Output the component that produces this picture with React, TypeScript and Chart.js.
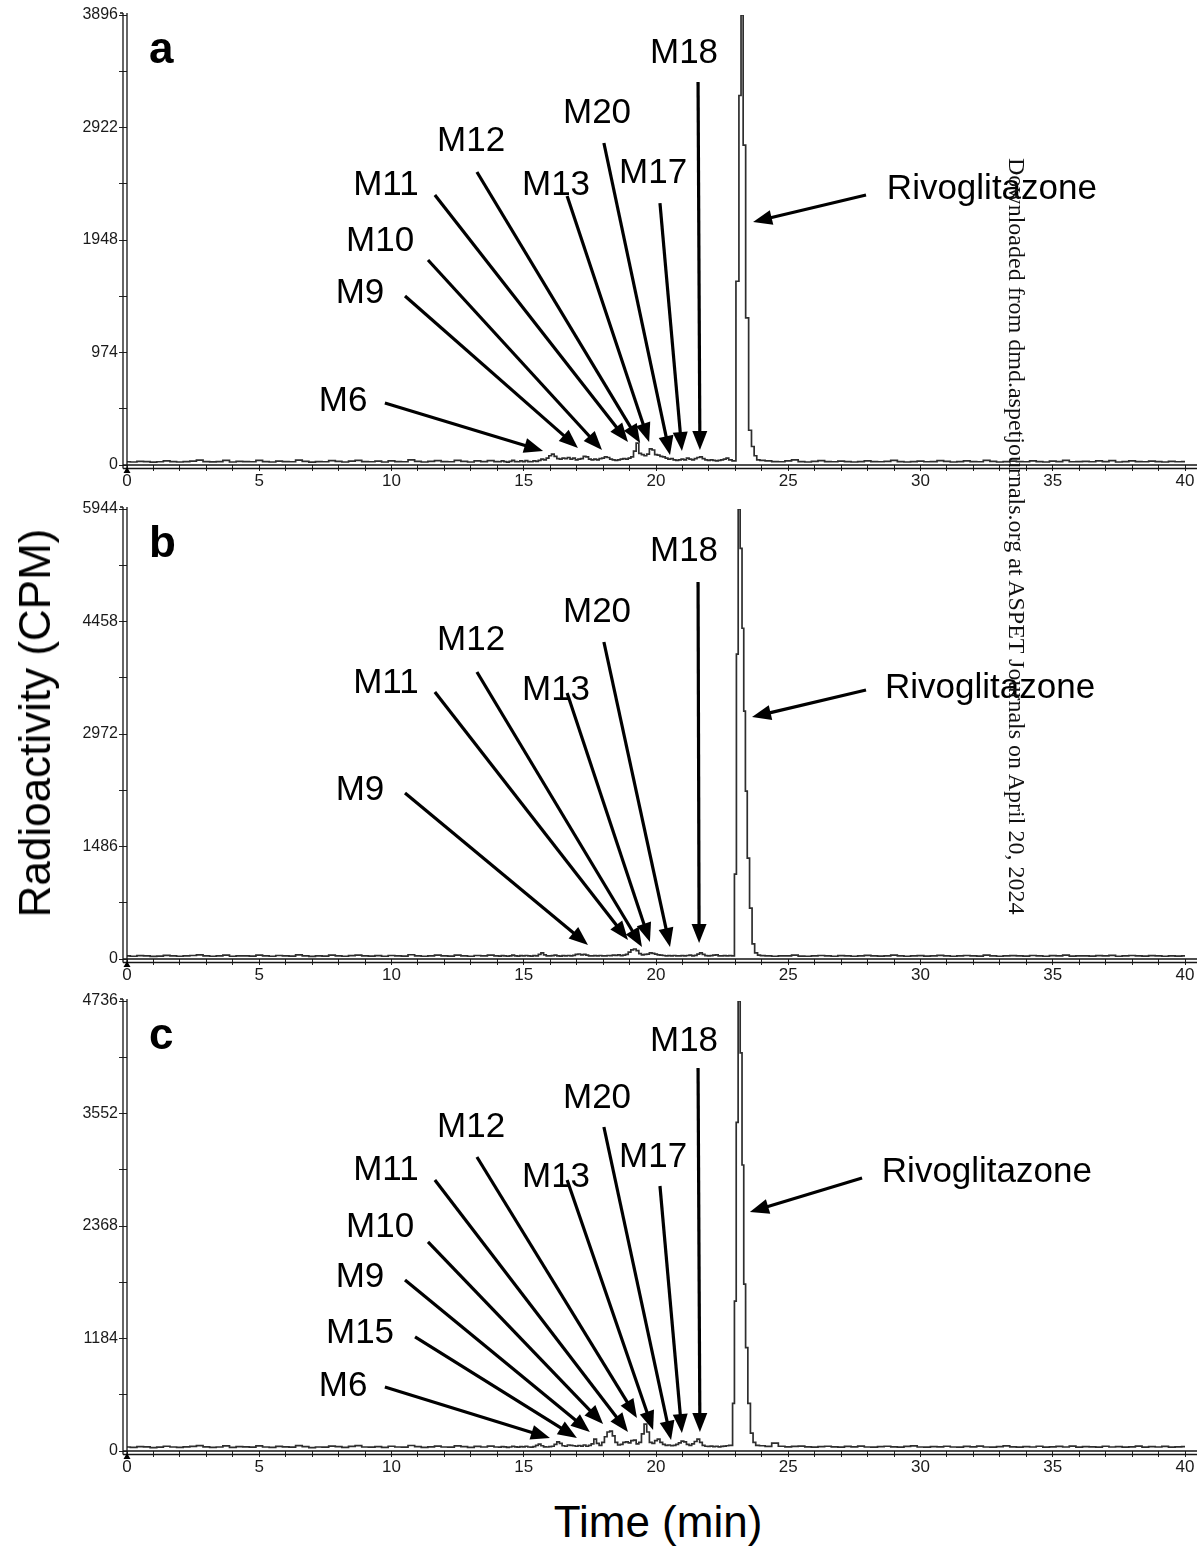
import React, { useEffect, useRef } from "react";
import { Chart, registerables } from "chart.js";

Chart.register(...registerables);

// Sampling grid of the chromatogram segments (minutes)
const LOW_START = 0;
const LOW_STEP = 0.25;
const MID_START = 14;
const MID_STEP = 0.1;
const HIGH_START = 24;
const HIGH_STEP = 0.25;

const X_MIN = 0;
const X_MAX = 40;

// ---------- Panel a ----------
const yMaxA = 3896;
const lowA = [
  28, 26, 32, 30, 25, 28, 36, 30, 26, 30,
  34, 42, 30, 27, 30, 40, 26, 32, 30, 28,
  40, 30, 26, 34, 30, 28, 42, 32, 25, 30,
  28, 38, 32, 26, 34, 40, 30, 28, 33, 26,
  36, 30, 28, 44, 32, 26, 32, 38, 30, 28,
  40, 32, 26, 35, 30, 38,
];
const midA = [
  30, 28, 35, 30, 25, 32, 40, 30, 28, 35,
  30, 38, 30, 28, 35, 32, 40, 50, 45, 60,
  80, 95, 75, 55, 50, 60, 55, 65, 50, 60,
  45, 50, 55, 75, 70, 50, 45, 50, 45, 55,
  60, 70, 65, 50, 45, 40, 45, 50, 55, 50,
  60, 70, 120, 190, 100, 90, 80, 95, 140, 130,
  90, 85, 75, 70, 60, 50, 55, 45, 40, 45,
  50, 45, 60, 50, 45, 55, 65, 70, 55, 45,
  40, 45, 40, 35, 40, 45, 50, 60, 45,
];
const peakTimesA = [22.95, 23.095, 23.175, 23.255, 23.335, 23.445, 23.56, 23.66, 23.76, 23.86];
const peakA = [35, 1591, 3199, 3896, 2769, 1273, 301, 160, 80, 45];
const highA = [
  40, 35, 30, 28, 35, 45, 30, 26, 32, 38,
  30, 28, 34, 30, 26, 30, 36, 30, 28, 32,
  40, 30, 26, 30, 34, 28, 30, 38, 32, 26,
  30, 36, 30, 28, 40, 32, 26, 30, 34, 30,
  28, 36, 30, 26, 34, 30, 40, 28, 30, 32,
  28, 35, 30, 38, 26, 30, 36, 30, 28, 34,
  30, 26, 32, 28, 30,
];
// [label, text t, text cpm, tail t, tail cpm, tip t, tip cpm]
const annotA: [string, number, number, number, number, number, number][] = [
  ["M6", 8.17, 554, 9.75, 537, 15.73, 121],
  ["M9", 8.81, 1489, 10.51, 1463, 17.05, 147],
  ["M10", 9.57, 1939, 11.38, 1775, 17.96, 130],
  ["M11", 9.79, 2424, 11.64, 2338, 18.94, 199],
  ["M12", 13.01, 2805, 13.23, 2537, 19.4, 190],
  ["M13", 16.22, 2424, 16.64, 2329, 19.74, 199],
  ["M20", 17.77, 3048, 18.03, 2788, 20.53, 87],
  ["M17", 19.89, 2528, 20.15, 2268, 20.98, 121],
  ["M18", 21.06, 3567, 21.59, 3316, 21.66, 130],
  ["Rivoglitazone", 32.7, 2390, 27.94, 2338, 23.67, 2104],
];

// ---------- Panel b ----------
const yMaxB = 5944;
const lowB = [
  40, 36, 44, 40, 34, 38, 48, 40, 36, 40,
  46, 54, 40, 36, 40, 52, 36, 42, 40, 38,
  52, 40, 36, 46, 40, 38, 54, 42, 34, 40,
  38, 50, 42, 36, 44, 52, 40, 38, 44, 36,
  46, 40, 38, 56, 42, 36, 42, 50, 40, 38,
  52, 42, 36, 46, 40, 50,
];
const midB = [
  40, 38, 45, 40, 36, 42, 50, 40, 38, 45,
  40, 46, 40, 38, 44, 42, 60, 80, 55, 42,
  40, 44, 50, 42, 38, 44, 40, 46, 42, 48,
  60, 66, 55, 62, 50, 42, 40, 44, 40, 46,
  42, 40, 46, 44, 50, 48, 55, 45, 50, 60,
  90, 120, 132, 110, 70, 55, 60, 65, 80, 75,
  65, 55, 50, 46, 42, 44, 40, 46, 42, 40,
  44, 40, 46, 50, 42, 48, 65, 80, 60, 45,
  40, 44, 50, 55, 42, 40, 45, 40, 44,
];
const peakTimesB = [22.92, 23.01, 23.07, 23.145, 23.22, 23.285, 23.35, 23.41, 23.49, 23.585, 23.68, 23.78, 23.9];
const peakB = [40, 1122, 4026, 5944, 5425, 4369, 3274, 2218, 1333, 673, 200, 80, 50];
const highB = [
  45, 40, 36, 42, 40, 50, 38, 36, 42, 46,
  40, 36, 44, 40, 36, 40, 48, 40, 38, 42,
  50, 40, 36, 40, 44, 38, 40, 48, 42, 36,
  40, 46, 40, 38, 50, 42, 36, 40, 44, 40,
  38, 46, 40, 36, 44, 40, 50, 38, 40, 42,
  38, 45, 40, 48, 36, 40, 46, 40, 38, 44,
  40, 36, 42, 38, 40,
];
const annotB: [string, number, number, number, number, number, number][] = [
  ["M9", 8.81, 2232, 10.51, 2193, 17.43, 185],
  ["M11", 9.79, 3646, 11.64, 3527, 18.94, 251],
  ["M12", 13.01, 4214, 13.23, 3791, 19.47, 159],
  ["M13", 16.22, 3553, 16.64, 3514, 19.77, 225],
  ["M20", 17.77, 4584, 18.03, 4187, 20.53, 159],
  ["M18", 21.06, 5389, 21.59, 4980, 21.63, 211],
  ["Rivoglitazone", 32.63, 3580, 27.94, 3553, 23.63, 3197],
];

// ---------- Panel c ----------
const yMaxC = 4736;
const lowC = [
  42, 38, 46, 44, 36, 40, 50, 42, 38, 44,
  48, 56, 44, 38, 42, 54, 38, 46, 44, 40,
  54, 42, 38, 48, 44, 40, 56, 46, 36, 42,
  40, 52, 46, 38, 48, 56, 42, 40, 46, 38,
  50, 42, 40, 58, 46, 38, 44, 52, 42, 40,
  54, 46, 38, 48, 42, 52,
];
const midC = [
  42, 40, 46, 44, 38, 42, 50, 44, 40, 46,
  44, 50, 42, 40, 46, 60, 73, 55, 44, 42,
  46, 50, 70, 97, 80, 55, 50, 63, 60, 55,
  50, 58, 52, 63, 50, 60, 75, 125, 80, 60,
  90, 150, 200, 209, 160, 90, 63, 70, 90, 97,
  85, 110, 115, 75, 90, 180, 282, 200, 90, 80,
  110, 125, 90, 70, 60, 63, 55, 60, 70, 85,
  104, 95, 70, 60, 75, 100, 125, 90, 60, 50,
  48, 52, 46, 50, 44, 48, 52, 55, 60,
];
const peakTimesC = [22.86, 22.93, 23.0, 23.065, 23.145, 23.22, 23.285, 23.35, 23.425, 23.52, 23.62, 23.72, 23.82];
const peakC = [60, 502, 1578, 3459, 4736, 4190, 3010, 1756, 1087, 502, 188, 90, 60];
const highC = [
  55, 48, 83, 50, 44, 48, 52, 44, 40, 46,
  50, 44, 40, 48, 44, 52, 42, 40, 46, 50,
  44, 40, 48, 54, 42, 40, 46, 44, 50, 42,
  40, 48, 44, 52, 42, 40, 46, 54, 44, 40,
  46, 42, 50, 40, 44, 48, 42, 52, 40, 46,
  44, 40, 50, 42, 46, 40, 44, 52, 40, 46,
  42, 48, 40, 44, 46,
];
const annotC: [string, number, number, number, number, number, number][] = [
  ["M6", 8.17, 684, 9.75, 674, 15.99, 137],
  ["M15", 8.81, 1242, 10.89, 1200, 17.01, 137],
  ["M9", 8.81, 1831, 10.51, 1800, 17.5, 200],
  ["M10", 9.57, 2357, 11.38, 2200, 18.0, 284],
  ["M11", 9.79, 2957, 11.64, 2852, 18.94, 200],
  ["M12", 13.01, 3410, 13.23, 3094, 19.28, 347],
  ["M13", 16.22, 2884, 16.64, 2852, 19.89, 221],
  ["M20", 17.77, 3715, 18.03, 3410, 20.57, 116],
  ["M17", 19.89, 3094, 20.15, 2789, 20.98, 189],
  ["M18", 21.06, 4315, 21.59, 4031, 21.66, 200],
  ["Rivoglitazone", 32.51, 2936, 27.79, 2873, 23.55, 2515],
];

const WATERMARK = "Downloaded from dmd.aspetjournals.org at ASPET Journals on April 20, 2024";
const Y_TITLE = "Radioactivity (CPM)";
const X_TITLE = "Time (min)";

const SANS = '"Liberation Sans", Arial, Helvetica, sans-serif';

function buildPoints(low: number[], mid: number[], peakT: number[], peakV: number[], high: number[]) {
  const pts: { x: number; y: number }[] = [];
  low.forEach((v, i) => pts.push({ x: +(LOW_START + i * LOW_STEP).toFixed(3), y: v }));
  mid.forEach((v, i) => pts.push({ x: +(MID_START + i * MID_STEP).toFixed(3), y: v }));
  peakT.forEach((t, i) => pts.push({ x: t, y: peakV[i] }));
  high.forEach((v, i) => pts.push({ x: +(HIGH_START + i * HIGH_STEP).toFixed(3), y: v }));
  return pts;
}

function drawArrow(ctx: CanvasRenderingContext2D, x1: number, y1: number, x2: number, y2: number) {
  const ang = Math.atan2(y2 - y1, x2 - x1);
  const L = 19;
  const W = 7.5;
  const c = Math.cos(ang);
  const s = Math.sin(ang);
  const bx = x2 - L * c;
  const by = y2 - L * s;
  ctx.lineWidth = 3.2;
  ctx.beginPath();
  ctx.moveTo(x1, y1);
  ctx.lineTo(bx + c, by + s);
  ctx.stroke();
  ctx.beginPath();
  ctx.moveTo(x2, y2);
  ctx.lineTo(bx + W * s, by - W * c);
  ctx.lineTo(bx - W * s, by + W * c);
  ctx.closePath();
  ctx.fill();
}

type PanelProps = {
  top: number;
  letter: string;
  yMax: number;
  points: { x: number; y: number }[];
  annots: [string, number, number, number, number, number, number][];
};

const CANVAS_H = 495;

function Panel({ top, letter, yMax, points, annots }: PanelProps) {
  const ref = useRef<HTMLCanvasElement>(null);
  useEffect(() => {
    const canvas = ref.current;
    if (!canvas) return;
    const deco = {
      id: "deco",
      afterDraw(chart: any) {
        const { ctx, chartArea: a, scales } = chart;
        const xs = scales.x;
        const ys = scales.y;
        ctx.save();
        // double axis lines
        ctx.strokeStyle = "#151515";
        ctx.lineWidth = 1.3;
        ctx.beginPath();
        ctx.moveTo(a.left, a.top - 2);
        ctx.lineTo(a.left, a.bottom + 3.5);
        ctx.moveTo(a.left - 4, a.top - 2);
        ctx.lineTo(a.left - 4, a.bottom + 3.5);
        ctx.moveTo(a.left - 7, a.top - 2);
        ctx.lineTo(a.left - 4, a.top - 2);
        ctx.moveTo(a.left - 4, a.bottom);
        ctx.lineTo(a.right + 12, a.bottom);
        ctx.moveTo(a.left - 4, a.bottom + 3.5);
        ctx.lineTo(a.right + 12, a.bottom + 3.5);
        ctx.stroke();
        // origin marker
        const ox = xs.getPixelForValue(0);
        ctx.fillStyle = "#000";
        ctx.beginPath();
        ctx.moveTo(ox, a.bottom + 2);
        ctx.lineTo(ox - 3.5, a.bottom + 8);
        ctx.lineTo(ox + 3.5, a.bottom + 8);
        ctx.closePath();
        ctx.fill();
        // annotations
        ctx.strokeStyle = "#000";
        ctx.fillStyle = "#000";
        ctx.font = `35px ${SANS}`;
        ctx.textAlign = "center";
        ctx.textBaseline = "middle";
        for (const [lab, tx, ty, sx, sy, ex, ey] of annots) {
          ctx.fillText(lab, xs.getPixelForValue(tx), ys.getPixelForValue(ty));
          drawArrow(
            ctx,
            xs.getPixelForValue(sx),
            ys.getPixelForValue(sy),
            xs.getPixelForValue(ex),
            ys.getPixelForValue(ey)
          );
        }
        // panel letter
        ctx.font = `bold 44px ${SANS}`;
        ctx.textAlign = "left";
        ctx.textBaseline = "alphabetic";
        ctx.fillText(letter, a.left + 22, a.top + 48);
        ctx.restore();
      },
    };
    const chart = new Chart(canvas, {
      type: "line",
      data: {
        datasets: [
          {
            data: points,
            borderColor: "#2e2e2e",
            borderWidth: 1.7,
            pointRadius: 0,
            stepped: "middle",
            fill: false,
          },
        ],
      },
      options: {
        animation: false,
        responsive: false,
        maintainAspectRatio: false,
        devicePixelRatio: 1,
        layout: { padding: { left: 0, right: 16, top: 15, bottom: 0 } },
        plugins: { legend: { display: false }, tooltip: { enabled: false } },
        scales: {
          x: {
            type: "linear",
            min: X_MIN,
            max: X_MAX,
            afterBuildTicks: (s: any) => {
              const t = [];
              for (let v = X_MIN; v <= X_MAX; v += 1) t.push({ value: v });
              s.ticks = t;
            },
            afterFit: (s: any) => {
              s.height = 30;
            },
            ticks: {
              autoSkip: false,
              maxRotation: 0,
              padding: 0,
              color: "#1a1a1a",
              font: { family: SANS, size: 17 },
              callback: (v: any) => (Number(v) % 5 === 0 ? String(v) : ""),
            },
            grid: { drawOnChartArea: false, drawTicks: true, tickLength: 6, color: "#222", lineWidth: 1 },
            border: { display: false },
          },
          y: {
            type: "linear",
            min: 0,
            max: yMax,
            afterBuildTicks: (s: any) => {
              const t = [];
              for (let i = 0; i <= 8; i++) t.push({ value: (yMax * i) / 8 });
              s.ticks = t;
            },
            afterFit: (s: any) => {
              s.width = 127;
            },
            ticks: {
              autoSkip: false,
              padding: 1,
              color: "#1a1a1a",
              font: { family: SANS, size: 16 },
              callback: (v: any, i: number) => (i % 2 === 0 ? String(Math.round(Number(v))) : ""),
            },
            grid: { drawOnChartArea: false, drawTicks: true, tickLength: 8, color: "#222", lineWidth: 1 },
            border: { display: false },
          },
        },
      },
      plugins: [deco],
    } as any);
    return () => chart.destroy();
  }, []);
  return (
    <canvas
      ref={ref}
      width={1201}
      height={CANVAS_H}
      style={{ position: "absolute", left: 0, top, width: 1201, height: CANVAS_H }}
    />
  );
}

export default function App() {
  const ptsA = buildPoints(lowA, midA, peakTimesA, peakA, highA);
  const ptsB = buildPoints(lowB, midB, peakTimesB, peakB, highB);
  const ptsC = buildPoints(lowC, midC, peakTimesC, peakC, highC);
  return (
    <div
      style={{
        position: "absolute",
        left: 0,
        top: 0,
        width: 1201,
        height: 1549,
        background: "#fff",
        overflow: "hidden",
      }}
    >
      <Panel top={0} letter="a" yMax={yMaxA} points={ptsA} annots={annotA} />
      <Panel top={494} letter="b" yMax={yMaxB} points={ptsB} annots={annotB} />
      <Panel top={986} letter="c" yMax={yMaxC} points={ptsC} annots={annotC} />
      <div
        style={{
          position: "absolute",
          left: 35,
          top: 723,
          transform: "translate(-50%, -50%) rotate(-90deg)",
          fontFamily: SANS,
          fontSize: 44,
          whiteSpace: "nowrap",
          color: "#000",
        }}
      >
        {Y_TITLE}
      </div>
      <div
        style={{
          position: "absolute",
          left: 658,
          top: 1522,
          transform: "translate(-50%, -50%)",
          fontFamily: SANS,
          fontSize: 44,
          whiteSpace: "nowrap",
          color: "#000",
        }}
      >
        {X_TITLE}
      </div>
      <div
        style={{
          position: "absolute",
          left: 1005,
          top: 158,
          writingMode: "vertical-rl",
          fontFamily: '"Liberation Serif", "Times New Roman", serif',
          fontSize: 24,
          lineHeight: "24px",
          whiteSpace: "nowrap",
          color: "#111",
        }}
      >
        {WATERMARK}
      </div>
    </div>
  );
}
